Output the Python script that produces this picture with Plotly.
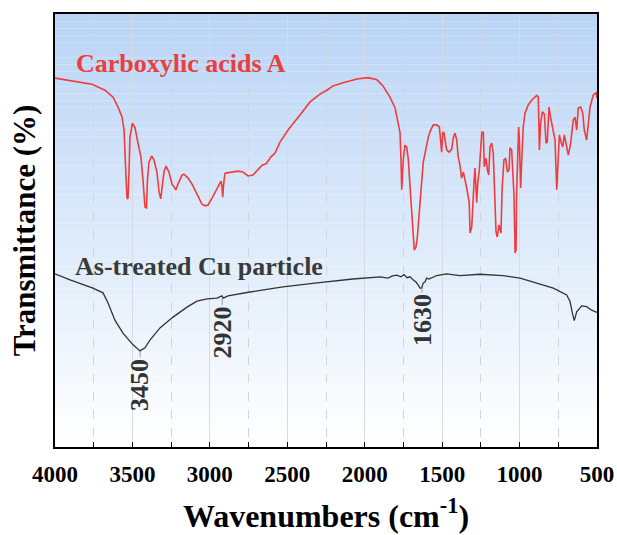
import plotly.graph_objects as go

# Carboxylic acids A spectrum (wavenumber cm-1, transmittance a.u.)
wn_acid = [4000, 3871, 3761, 3677, 3625, 3593, 3567, 3554, 3548, 3542, 3535, 3529, 3522, 3516, 3500,
           3483, 3464, 3445, 3432, 3419, 3409, 3403, 3393, 3376, 3361, 3341, 3328, 3317, 3309, 3296,
           3283, 3264, 3244, 3219, 3206, 3180, 3167, 3141, 3115, 3083, 3051, 3031, 3012, 2986, 2960,
           2941, 2928, 2922, 2917, 2912, 2903, 2889, 2857, 2818, 2786, 2754, 2721, 2689, 2663, 2637,
           2605, 2579, 2547, 2495, 2450, 2418, 2353, 2289, 2244, 2205, 2140, 2050, 1979, 1921, 1882,
           1837, 1804, 1785, 1772, 1766, 1761, 1751, 1740, 1729, 1718, 1708, 1697, 1686, 1680, 1669,
           1660, 1648, 1637, 1622, 1606, 1589, 1574, 1557, 1535, 1518, 1503, 1496, 1488, 1471, 1454,
           1438, 1428, 1417, 1406, 1396, 1385, 1374, 1363, 1352, 1341, 1325, 1320, 1309, 1303, 1294,
           1288, 1281, 1277, 1270, 1260, 1244, 1234, 1228, 1217, 1208, 1199, 1191, 1180, 1170, 1163,
           1152, 1144, 1133, 1120, 1113, 1101, 1090, 1079, 1068, 1062, 1051, 1044, 1036, 1029, 1023,
           1019, 1015, 1006, 1002, 993, 984, 976, 965, 944, 922, 889, 879, 872, 864, 853,
           840, 829, 821, 810, 799, 786, 771, 760, 754, 743, 732, 721, 711, 696, 685,
           670, 653, 642, 631, 621, 605, 592, 582, 567, 556, 545, 524, 506, 500]
t_acid = [85.2, 84.5, 83.8, 82.4, 80.8, 78.5, 76.2, 73.2, 69.3, 62.8, 57.5, 57.3, 63.5, 71.6, 74.8,
          73.7, 70.2, 67.0, 61.7, 55.4, 55.2, 61.7, 65.8, 67.2, 66.3, 63.3, 58.9, 57.3, 59.8, 63.5,
          64.9, 63.5, 60.7, 59.4, 60.7, 62.8, 63.0, 62.1, 60.7, 58.2, 56.1, 55.7, 55.9, 57.5, 59.4,
          60.7, 61.4, 60.3, 57.7, 60.3, 63.2, 63.3, 63.5, 63.7, 63.5, 62.6, 62.8, 64.0, 65.1, 65.4,
          67.0, 67.9, 70.4, 73.2, 75.1, 76.7, 79.7, 81.5, 82.4, 83.4, 84.1, 85.0, 85.3, 84.8, 83.4,
          80.8, 78.3, 74.4, 72.6, 66.7, 59.4, 66.3, 69.7, 69.3, 66.3, 60.5, 54.0, 48.3, 45.5, 46.2,
          48.5, 54.0, 59.4, 65.8, 68.6, 71.6, 73.2, 74.4, 74.4, 73.9, 68.1, 72.7, 72.5, 68.6, 68.1,
          68.8, 71.4, 72.5, 70.9, 67.0, 65.1, 62.1, 63.5, 61.7, 59.8, 56.4, 49.4, 50.8, 56.4, 61.2,
          64.4, 60.0, 56.4, 61.0, 64.0, 72.7, 72.7, 64.7, 66.7, 64.0, 62.8, 69.3, 70.2, 67.9, 60.0,
          49.7, 48.5, 51.3, 49.4, 59.4, 66.3, 66.7, 63.5, 64.0, 69.1, 68.6, 63.5, 58.2, 44.8, 45.5,
          58.7, 65.1, 73.9, 71.6, 59.8, 67.9, 73.9, 77.1, 79.0, 80.1, 81.2, 80.8, 68.6, 74.8, 77.4,
          76.9, 70.2, 70.4, 78.5, 76.0, 73.2, 70.9, 59.4, 64.0, 72.1, 70.4, 69.3, 72.1, 69.3, 67.4,
          70.2, 75.5, 76.2, 73.2, 78.3, 78.5, 77.1, 73.2, 70.9, 74.8, 78.5, 81.3, 81.8, 80.6]

# As-treated Cu particle spectrum
wn_cu = [4000, 3903, 3755, 3690, 3658, 3613, 3561, 3496, 3451, 3419, 3387, 3322, 3238, 3148, 3083,
         3018, 2954, 2922, 2913, 2883, 2741, 2528, 2308, 2076, 1901, 1850, 1820, 1792, 1766, 1746,
         1727, 1707, 1688, 1669, 1654, 1643, 1632, 1622, 1611, 1600, 1585, 1567, 1535, 1471, 1385,
         1256, 1107, 997, 889, 782, 696, 674, 659, 647, 631, 599, 567, 534, 500]
t_cu = [40.0, 38.6, 36.7, 35.6, 33.3, 29.3, 26.3, 23.6, 22.2, 22.9, 24.7, 27.5, 30.0, 32.3, 33.7,
        34.2, 34.4, 34.9, 34.4, 34.9, 35.8, 37.0, 37.9, 38.8, 39.3, 39.0, 39.5, 39.7, 39.3, 39.8,
        39.1, 39.3, 38.6, 38.1, 37.4, 36.7, 36.7, 37.9, 38.1, 39.0, 38.8, 39.1, 39.6, 40.0, 39.6,
        39.9, 39.6, 39.0, 37.8, 36.7, 35.1, 33.6, 30.9, 29.2, 31.2, 32.6, 32.4, 31.6, 31.1]

peak_labels = ["3450", "2920", "1630"]
peak_wn = [3450, 2920, 1630]
peak_t = [22.2, 34.6, 36.7]
peak_offsets = [34, 35, 32]

tick_vals = [4000, 3500, 3000, 2500, 2000, 1500, 1000, 500]
tick_text = ["4000", "3500", "3000", "2500", "2000", "1500", "1000", "500"]

FONT = "Times New Roman, Liberation Serif, serif"

fig = go.Figure()
fig.add_trace(go.Scatter(x=wn_acid, y=t_acid, mode="lines",
                         line=dict(color="#f03c3c", width=1.6), showlegend=False))
fig.add_trace(go.Scatter(x=wn_cu, y=t_cu, mode="lines",
                         line=dict(color="#333333", width=1.3), showlegend=False))

# gradient background
n = 60
top = (186, 212, 245)
bot = (255, 255, 255)
for i in range(n):
    f = i / (n - 1)
    c = tuple(int(round(top[k] + (bot[k] - top[k]) * f)) for k in range(3))
    fig.add_shape(type="rect", xref="x domain", yref="y domain",
                  x0=0, x1=1, y0=1 - (i + 1) / n, y1=1 - i / n,
                  fillcolor="rgb(%d,%d,%d)" % c, line=dict(width=0), layer="below")

fig.add_annotation(x=3877, y=88.5, text="<b>Carboxylic acids A</b>", showarrow=False,
                   xanchor="left", yanchor="middle", font=dict(family=FONT, size=26, color="#e8403f"))
fig.add_annotation(x=3884, y=41.8, text="<b>As-treated Cu particle</b>", showarrow=False,
                   xanchor="left", yanchor="middle", font=dict(family=FONT, size=26, color="#3a3a3a"))

for lab, xw, yt, off in zip(peak_labels, peak_wn, peak_t, peak_offsets):
    fig.add_annotation(x=xw, y=yt, text="<b>%s</b>" % lab, textangle=-90, showarrow=True,
                       arrowhead=0, arrowwidth=0.8, arrowcolor="#888888", ax=0, ay=off,
                       font=dict(family=FONT, size=26, color="#333333"))

fig.update_xaxes(range=[4000, 500], tickvals=tick_vals,
                 ticktext=["<b>%s</b>" % t for t in tick_text],
                 ticks="inside", ticklen=5, tickwidth=1.2, tickcolor="black",
                 showline=True, linecolor="black", linewidth=1.5, mirror=True,
                 showgrid=True, gridcolor="#d6dbe3", gridwidth=1,
                 minor=dict(dtick=250, tick0=500, ticks="inside", ticklen=5, tickcolor="black",
                            showgrid=True, gridcolor="#d0d5dd", griddash="dash", gridwidth=1),
                 tickfont=dict(family=FONT, size=23, color="black"),
                 ticklabelstandoff=6, automargin=False,
                 title=dict(text="<b>Wavenumbers (cm<sup>-1</sup>)</b>", standoff=18,
                            font=dict(family=FONT, size=32, color="black")),
                 zeroline=False)
fig.update_yaxes(range=[0, 100], showticklabels=False, ticks="", showgrid=False,
                 showline=True, linecolor="black", linewidth=1.5, mirror=True, zeroline=False,
                 automargin=False,
                 title=dict(text="<b>Transmittance (%)</b>", standoff=8,
                            font=dict(family=FONT, size=31, color="black")))

fig.update_layout(width=617, height=535, margin=dict(l=55, r=20, t=14, b=88),
                  plot_bgcolor="white", paper_bgcolor="white")

fig.write_html("out.html")
